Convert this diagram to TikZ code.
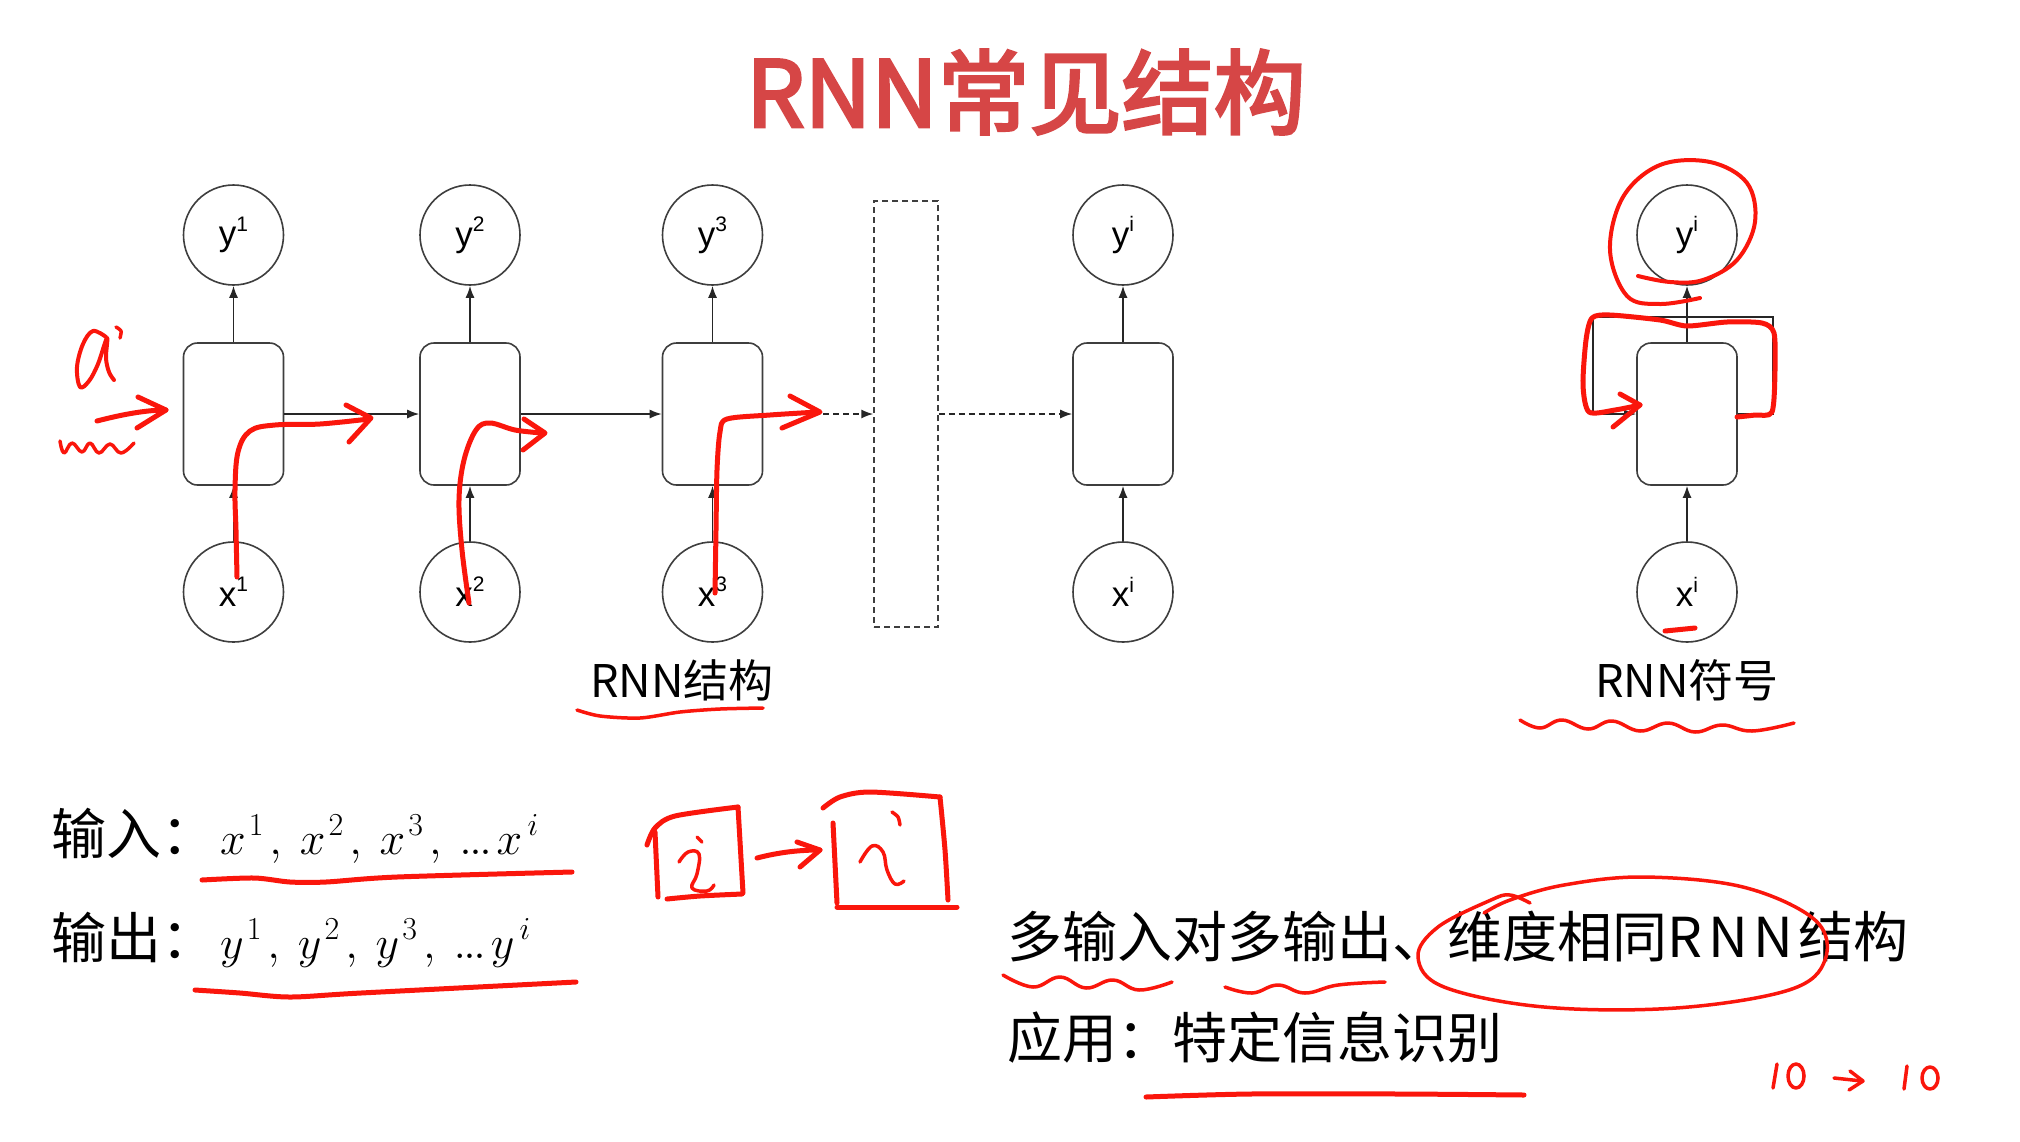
\documentclass[tikz,border=0pt]{standalone}
\usepackage{fix-cm}
\usepackage{fontspec}
\usetikzlibrary{arrows.meta}
\newfontfamily\cjk{Noto Sans CJK SC}
\newfontfamily\cjkheavy[FakeBold=3.2]{Noto Sans CJK SC}
\newfontfamily\arial{Liberation Sans}
\definecolor{titlered}{RGB}{214,70,70}
\definecolor{ink}{RGB}{250,22,12}
\definecolor{strokegray}{RGB}{62,62,62}
\newcommand\rnnsup[1]{\raisebox{0.42em}{\fontsize{21}{21}\selectfont #1}}
\newcommand\tightdots{$.\mkern-1mu.\mkern-1mu.$}
\newcommand\mvar[3]{$#1$\kern#3pt\raisebox{19pt}{\fontsize{32}{32}\selectfont$#2$}}
\newcommand\mcomma{\kern6pt$,$\kern18pt}
\begin{document}
\begin{tikzpicture}[x=1pt,y=-1pt,
 unit/.style={circle,draw=strokegray,line width=1.6pt,minimum size=100pt,inner sep=0pt,font=\arial\fontsize{35}{40}\selectfont},
 cell/.style={rectangle,rounded corners=14pt,draw=strokegray,line width=1.6pt,minimum width=100pt,minimum height=142pt,inner sep=0pt},
 conn/.style={line width=1.5pt,draw=black!85,-{Latex[length=12pt,width=9pt]}},
 dconn/.style={conn,dash pattern=on 6pt off 4pt},
 pen/.style={draw=ink,line width=5pt,line cap=round,line join=round},
 thinpen/.style={pen,line width=3.5pt},
 lbl/.style={font=\cjk\fontsize{45}{50}\selectfont,anchor=base,inner sep=0pt},
 body/.style={font=\cjk\fontsize{55}{60}\selectfont,anchor=base west,inner sep=0pt}
]
\fill[white] (0,0) rectangle (2020,1141);
\useasboundingbox (0,0) rectangle (2020,1141);

% title
\node[font=\cjkheavy\fontsize{92}{100}\selectfont,text=titlered,anchor=base,inner sep=0pt] (title) at (1026,127) {RNN常见结构};

% unrolled RNN
\foreach \n/\c/\s in {1/233.5/1,2/470/2,3/712.5/3,4/1123/i}{
  \node[unit] (y\n) at (\c,235) {y\rnnsup{\s}};
  \node[cell] (h\n) at (\c,414) {};
  \node[unit] (x\n) at (\c,592) {x\rnnsup{\s}};
  \draw[conn] (h\n) -- (y\n);
  \draw[conn] (x\n) -- (h\n);
}
\node[draw=strokegray,line width=1.5pt,dash pattern=on 6pt off 4pt,minimum width=64pt,minimum height=426pt,inner sep=0pt] (gap) at (906,414) {};
\draw[conn] (h1) -- (h2);
\draw[conn] (h2) -- (h3);
\draw[dconn] (h3) -- (gap);
\draw[dconn] (gap) -- (h4);

% RNN symbol
\node[unit] (y5) at (1687,235) {y\rnnsup{i}};
\node[cell] (h5) at (1687,414) {};
\node[unit] (x5) at (1687,592) {x\rnnsup{i}};
\draw[conn] (h5) -- (y5);
\draw[conn] (x5) -- (h5);
\coordinate (lr) at (1773,317);
\coordinate (ll) at (1593,317);
\draw[conn] (h5.east) -| (lr) -- (ll) |- (h5.west);

% labels
\node[lbl] (lab1) at (682,697) {RNN结构};
\node[lbl] (lab2) at (1687,697) {RNN符号};

% texts
\node[body] (inp) at (51,854) {输入：\kern4pt{\fontsize{46}{56}\selectfont\mvar{x}{1}{3}\mcomma\mvar{x}{2}{3}\mcomma\mvar{x}{3}{3}\mcomma\tightdots\kern5pt\mvar{x}{i}{5}}};
\node[body] (outp) at (51,958) {输出：\kern4pt{\fontsize{46}{56}\selectfont\mvar{y}{1}{3}\mcomma\mvar{y}{2}{3}\mcomma\mvar{y}{3}{3}\mcomma\tightdots\kern5pt\mvar{y}{i}{5}}};
\node[body] (m1) at (1007,957) {多输入对多输出、维度相同R\kern6pt N\kern6pt N\kern5pt 结构};
\node[body] (m2) at (1007,1058) {应用：特定信息识别};

% ---- red handwriting ----
% a
\draw[thinpen,line width=4pt] plot[smooth,tension=0.6] coordinates {(106,337) (93,331) (83,344) (77,367) (80,387) (89,381) (98,364) (107,338) (106,358) (109,372) (114,380)};
\draw[thinpen] plot[smooth] coordinates {(116,327) (121,331) (120,338)};
\draw[pen] (97,421) .. controls (120,415) and (145,410) .. (166,410);
\draw[pen] (138,397) -- (166,410) -- (137,428);
\draw[thinpen] plot[smooth,tension=0.7] coordinates {(60,441) (64,453) (72,443) (82,452) (90,443) (99,453) (110,444) (121,453) (134,443)};
% flows
\draw[pen] plot[smooth,tension=0.6] coordinates {(237,577) (236,530) (235,490) (238,452) (250,431) (275,425) (320,424) (369,419)};
\draw[pen] (346,405) -- (371,418) -- (349,442);
\draw[pen] plot[smooth,tension=0.6] coordinates {(469,603) (462,550) (459,500) (464,460) (476,430) (490,423) (515,430) (542,433)};
\draw[pen] (524,419) -- (545,433) -- (523,450);
\draw[pen] plot[smooth,tension=0.5] coordinates {(715,593) (716,530) (717,470) (720,432) (727,419) (770,415) (818,412)};
\draw[pen] (790,396) -- (820,412) -- (782,428);
% RNN symbol marks
\draw[pen,line width=4pt] plot[smooth,tension=0.6] coordinates {(1638,276) (1670,282) (1703,280) (1737,260) (1755,222) (1747,183) (1710,162) (1660,165) (1623,197) (1610,250) (1627,296) (1660,304) (1700,298)};
\draw[pen] plot[smooth,tension=0.45] coordinates {(1737,417) (1755,415) (1772,412) (1775,370) (1774,333) (1762,323) (1727,322) (1687,326) (1660,320) (1610,315) (1592,318) (1586,340) (1583,385) (1589,412) (1615,410) (1640,405)};
\draw[pen] (1620,394) -- (1640,405) -- (1613,427);
\draw[pen] (1665,631) -- (1695,628);
% underlines
\draw[thinpen] plot[smooth] coordinates {(577,710) (600,716) (640,718) (680,712) (720,709) (763,708)};
\draw[thinpen] plot[smooth,tension=0.7] coordinates {(1520,720) (1540,728) (1562,720) (1588,729) (1612,721) (1640,731) (1668,723) (1695,732) (1722,725) (1752,731) (1794,723)};
\draw[pen] plot[smooth] coordinates {(202,880) (254,878) (290,882) (326,882) (397,877) (572,872)};
\draw[pen] plot[smooth] coordinates {(195,990) (240,993) (290,997) (361,993) (576,982)};
% boxed i -> boxed i
\draw[pen] (655,832) -- (658,897);
\draw[pen] plot[smooth] coordinates {(647,845) (655,828) (675,816) (738,807)};
\draw[pen] (738,807) -- (743,893);
\draw[pen] plot[smooth] coordinates {(667,899) (700,896) (742,894)};
\draw[thinpen] plot[smooth,tension=0.7] coordinates {(679,862) (688,852) (699,854) (697,874) (692,888) (707,891) (714,885)};
\draw[thinpen] (697,837) -- (702,842);
\draw[pen] (757,858) .. controls (780,852) and (800,850) .. (820,850);
\draw[pen] (797,842) -- (820,850) -- (800,867);
\draw[pen] plot[smooth] coordinates {(823,808) (840,797) (870,792) (940,797)};
\draw[pen] plot[smooth] coordinates {(940,797) (945,850) (948,900)};
\draw[pen] (833,823) -- (837,903);
\draw[pen] (837,907) -- (957,907);
\draw[thinpen] plot[smooth,tension=0.7] coordinates {(860,862) (872,846) (883,852) (887,870) (895,884) (904,881)};
\draw[thinpen] plot[smooth] coordinates {(892,812) (898,817) (900,825)};
% right text marks
\draw[thinpen] plot[smooth,tension=0.7] coordinates {(1003,975) (1033,987) (1060,977) (1086,988) (1113,980) (1139,990) (1172,982)};
\draw[thinpen] plot[smooth,tension=0.7] coordinates {(1225,987) (1252,993) (1278,985) (1305,993) (1338,985) (1385,982)};
\draw[thinpen] plot[smooth,tension=0.6] coordinates {(1530,903) (1510,895) (1491,900) (1438,927) (1418,957) (1444,987) (1544,1007) (1676,1008) (1789,990) (1825,960) (1815,920) (1743,887) (1643,877) (1564,885) (1510,900) (1484,913)};
\draw[pen] plot[smooth] coordinates {(1146,1097) (1250,1094) (1400,1094) (1524,1095)};
% 10 -> 10
\draw[thinpen] (1777,1064) -- (1773,1088);
\draw[thinpen] (1796,1076) ellipse [x radius=8pt, y radius=12pt];
\draw[thinpen] (1834,1078) -- (1862,1081);
\draw[thinpen] (1850,1071) -- (1863,1081) -- (1849,1090);
\draw[thinpen] (1907,1066) -- (1904,1089);
\draw[thinpen] (1930,1078) ellipse [x radius=8pt, y radius=11pt];
\end{tikzpicture}
\end{document}
